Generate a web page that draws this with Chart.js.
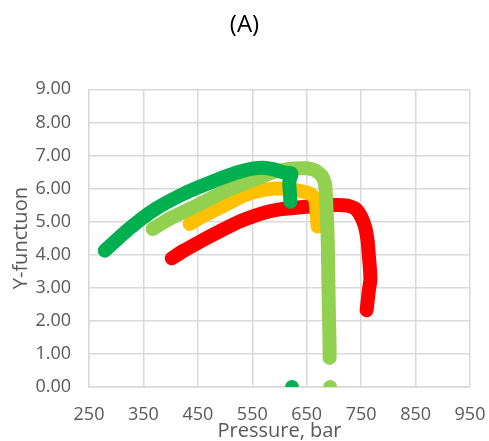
<!DOCTYPE html>
<html lang="en">
<head>
    <meta charset="UTF-8">
    <title>(A)</title>
    <script src="https://cdn.jsdelivr.net/npm/chart.js"></script>
    <style>
        body {
            margin: 0;
            background: #fff;
        }
        #chart {
            display: block;
        }
    </style>
</head>
<body>
    <canvas id="chart" width="489" height="441"></canvas>

    <script>
        // pressure (bar) and Y-function values
        const darkGreenP = [279, 290, 300, 325, 350, 375, 400, 425, 450, 475, 500, 525, 550, 570, 590, 605, 615, 622, 618, 619, 620];
        const darkGreenY = [4.12, 4.29, 4.44, 4.8, 5.13, 5.41, 5.64, 5.85, 6.03, 6.2, 6.36, 6.5, 6.6, 6.63, 6.58, 6.5, 6.47, 6.45, 6.2, 5.9, 5.6];

        const lightGreenP = [367, 400, 450, 500, 550, 590, 620, 650, 665, 678, 684, 686, 688, 689, 690, 691, 692, 692];
        const lightGreenY = [4.78, 5.1, 5.5, 5.92, 6.25, 6.5, 6.6, 6.61, 6.55, 6.38, 6.1, 5.5, 4.8, 4.1, 3.0, 2.0, 1.3, 0.88];

        const yellowP = [435, 450, 475, 500, 525, 550, 575, 600, 630, 655, 665, 668, 670];
        const yellowY = [4.93, 5.08, 5.3, 5.5, 5.72, 5.88, 5.97, 6.0, 5.95, 5.85, 5.7, 5.3, 4.85];

        const redP = [402, 425, 450, 475, 500, 525, 550, 575, 600, 650, 700, 725, 740, 750, 757, 762, 764, 766, 767, 764, 762, 760];
        const redY = [3.89, 4.13, 4.36, 4.58, 4.79, 4.99, 5.15, 5.28, 5.37, 5.45, 5.5, 5.48, 5.38, 5.15, 4.85, 4.4, 4.0, 3.6, 3.25, 2.9, 2.6, 2.32];

        // lone points sitting on zero
        const darkGreenZeroP = [623];
        const lightGreenZeroP = [693];

        const xTicks = [250, 350, 450, 550, 650, 750, 850, 950];
        const yTicks = [0, 1, 2, 3, 4, 5, 6, 7, 8, 9];

        const font = "'Open Sans', 'Noto Sans', sans-serif";
        const gridColor = "#d9d9d9";
        const textColor = "#595959";

        function toPoints(px, py) {
            return px.map((p, i) => ({x: p, y: py[i]}));
        }

        function curve(px, py, color) {
            return {
                data: toPoints(px, py),
                showLine: true,
                borderColor: color,
                backgroundColor: color,
                borderWidth: 14,
                borderCapStyle: "round",
                borderJoinStyle: "round",
                tension: 0.2,
                pointRadius: 0
            };
        }

        function zeroDots(px, color) {
            return {
                data: px.map(p => ({x: p, y: 0})),
                showLine: false,
                pointRadius: 7,
                pointBorderWidth: 0,
                pointBackgroundColor: color,
                borderColor: color
            };
        }

        new Chart(document.getElementById("chart"), {
            type: "scatter",
            data: {
                // first dataset ends up on top
                datasets: [
                    curve(darkGreenP, darkGreenY, "#00b050"),
                    zeroDots(darkGreenZeroP, "#00b050"),
                    curve(lightGreenP, lightGreenY, "#92d050"),
                    zeroDots(lightGreenZeroP, "#92d050"),
                    curve(yellowP, yellowY, "#ffc000"),
                    curve(redP, redY, "#ff0000")
                ]
            },
            options: {
                responsive: false,
                animation: false,
                layout: {
                    padding: 0
                },
                plugins: {
                    legend: {display: false},
                    tooltip: {enabled: false},
                    title: {
                        display: true,
                        text: "(A)",
                        color: "#000",
                        font: {family: font, size: 24, weight: "normal", lineHeight: 1.2},
                        padding: {top: 11, bottom: 49.5}
                    }
                },
                scales: {
                    x: {
                        type: "linear",
                        min: xTicks[0],
                        max: xTicks[xTicks.length - 1],
                        afterFit: s => {
                            s.height = 54;
                            s.paddingLeft = 0;
                            s.paddingRight = 19;
                        },
                        afterBuildTicks: s => { s.ticks = xTicks.map(v => ({value: v})); },
                        ticks: {
                            color: textColor,
                            font: {family: font, size: 18},
                            padding: 17,
                            maxRotation: 0
                        },
                        grid: {color: gridColor, lineWidth: 1.5, drawTicks: false},
                        border: {color: gridColor, width: 1.5},
                        title: {
                            display: true,
                            text: "Pressure, bar",
                            color: textColor,
                            font: {family: font, size: 20, lineHeight: 1},
                            padding: 0
                        }
                    },
                    y: {
                        min: yTicks[0],
                        max: yTicks[yTicks.length - 1],
                        afterFit: s => { s.width = 89; },
                        afterBuildTicks: s => { s.ticks = yTicks.map(v => ({value: v})); },
                        ticks: {
                            color: textColor,
                            font: {family: font, size: 18},
                            padding: 18,
                            callback: v => v.toFixed(2)
                        },
                        grid: {color: gridColor, lineWidth: 1.5, drawTicks: false},
                        border: {color: gridColor, width: 1.5},
                        title: {
                            display: true,
                            text: "Y-functuon",
                            color: textColor,
                            font: {family: font, size: 20, lineHeight: 1},
                            padding: {top: 11, bottom: 0}
                        }
                    }
                }
            }
        });
    </script>
</body>
</html>
